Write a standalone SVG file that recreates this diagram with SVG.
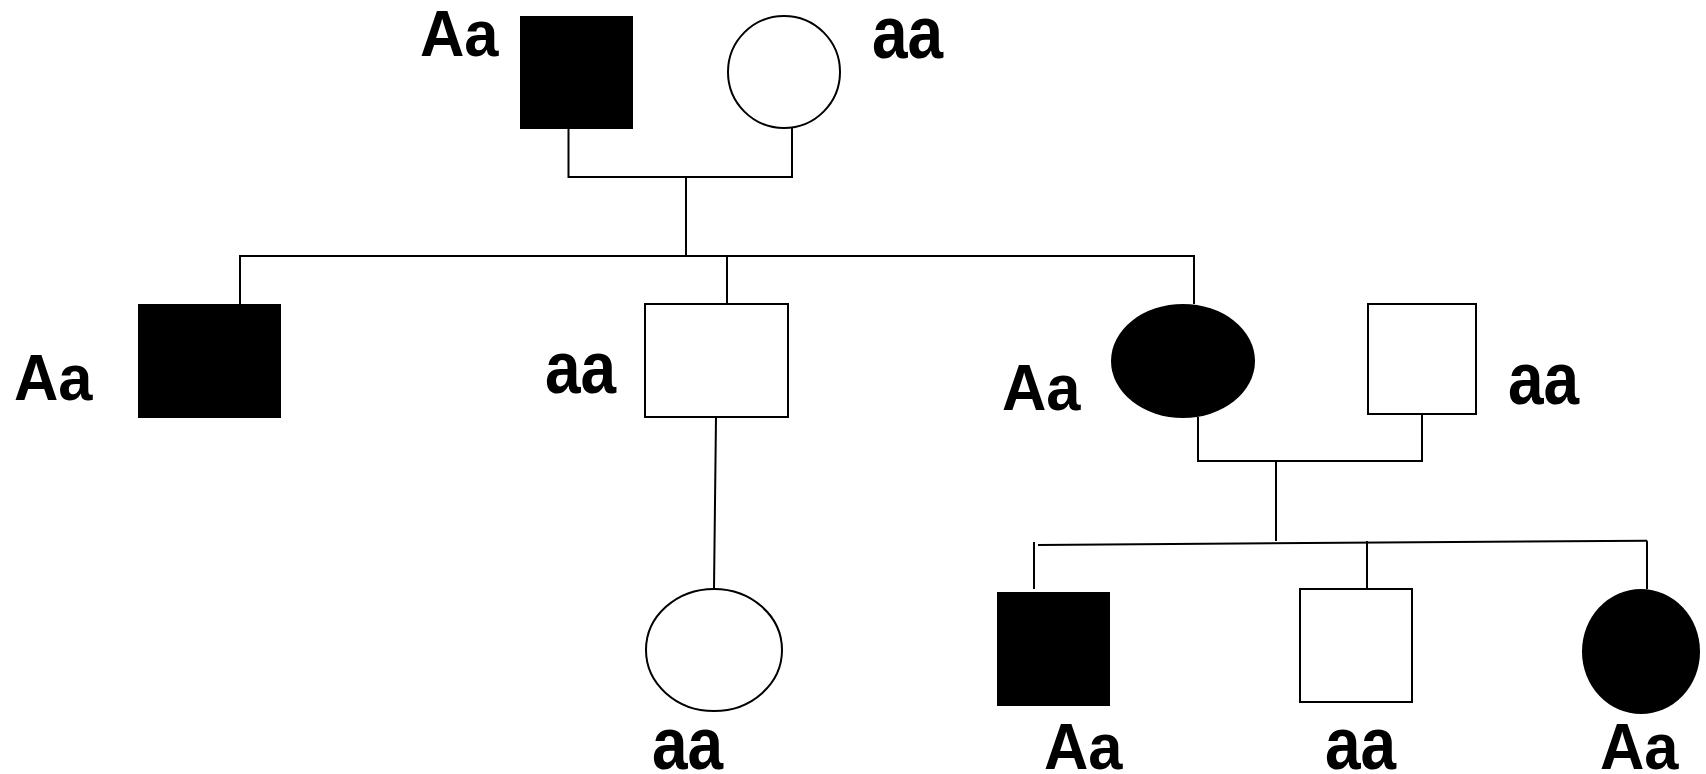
<svg xmlns="http://www.w3.org/2000/svg" width="1706" height="774" viewBox="0 0 1706 774">
<style>
.aff{fill:#000;stroke:none}
.un{fill:#fff;stroke:#000;stroke-width:2}
.ln{fill:none;stroke:#000;stroke-width:2}
.lb{font-family:"Liberation Sans",Arial,sans-serif;font-weight:bold;font-size:64px;fill:#000}
</style>
<rect width="1706" height="774" fill="#fff"/>
<g id="connectors">
<path class="ln" d="M568.5,129 V177 H792 V128"/>
<path class="ln" d="M686,177 V256"/>
<path class="ln" d="M240,304 V256 H1194 V304"/>
<path class="ln" d="M727,256 V304"/>
<path class="ln" d="M716,417 L714,589"/>
<path class="ln" d="M1198,417 V461 H1422 V414"/>
<path class="ln" d="M1276,461 V541"/>
<path class="ln" d="M1038,545 L1647,540.7"/>
<path class="ln" d="M1034,542 V589"/>
<path class="ln" d="M1367,541 V589"/>
<path class="ln" d="M1647,540.7 V589"/>
</g>
<g id="gp-father"><rect class="aff" x="520" y="16" width="113" height="113"/><text class="lb" transform="translate(420,56) scale(0.96,1)">Aa</text></g>
<g id="gp-mother"><ellipse class="un" cx="784" cy="72" rx="56" ry="56"/><text class="lb" transform="translate(872,58) scale(1,1.15)">aa</text></g>
<g id="son1"><rect class="aff" x="138" y="304" width="143" height="114"/><text class="lb" transform="translate(14,400) scale(0.96,1)">Aa</text></g>
<g id="son2"><rect class="un" x="645" y="304" width="143" height="113"/><text class="lb" transform="translate(545,393) scale(1,1.15)">aa</text></g>
<g id="daughter"><ellipse class="aff" cx="1183" cy="361" rx="72" ry="57"/><text class="lb" transform="translate(1002,410) scale(0.96,1)">Aa</text></g>
<g id="spouse"><rect class="un" x="1368" y="304" width="108" height="110"/><text class="lb" transform="translate(1508,404) scale(1,1.15)">aa</text></g>
<g id="granddaughter1"><ellipse class="un" cx="714" cy="650" rx="68" ry="61"/><text class="lb" transform="translate(652,769) scale(1,1.15)">aa</text></g>
<g id="grandson1"><rect class="aff" x="997" y="592" width="113" height="114"/><text class="lb" transform="translate(1044,769) scale(0.96,1)">Aa</text></g>
<g id="grandson2"><rect class="un" x="1300" y="589" width="112" height="113"/><text class="lb" transform="translate(1325,769) scale(1,1.15)">aa</text></g>
<g id="granddaughter2"><ellipse class="aff" cx="1641" cy="651.5" rx="59" ry="62.5"/><text class="lb" transform="translate(1600,769) scale(0.96,1)">Aa</text></g>
</svg>
